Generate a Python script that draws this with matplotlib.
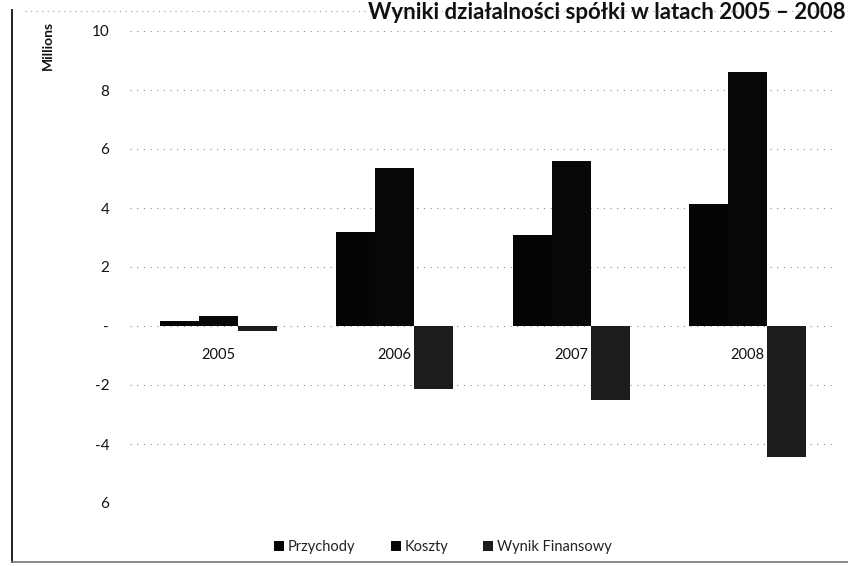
import matplotlib
matplotlib.use("Agg")
import matplotlib.pyplot as plt
from matplotlib.lines import Line2D
import numpy as np

plt.rcParams['font.family'] = ['Lato', 'DejaVu Sans']

years = ["2005", "2006", "2007", "2008"]
przychody = [0.18, 3.2, 3.1, 4.15]
koszty = [0.35, 5.35, 5.6, 8.6]
wynik = [-0.17, -2.15, -2.5, -4.45]
series_names = ["Przychody", "Koszty", "Wynik Finansowy"]
ytick_vals = [10, 8, 6, 4, 2, 0, -2, -4, -6]
ytick_labels = ["10", "8", "6", "4", "2", "-", "-2", "-4", "6"]
title = "Wyniki działalności spółki w latach 2005 – 2008"

W, H = 848, 566
fig = plt.figure(figsize=(W / 100, H / 100), dpi=100)
ax = fig.add_axes([130 / W, 1 - 503 / H, 706 / W, 472 / H])

x = np.arange(len(years))
bw = 0.221
colors = ["#050505", "#080808", "#1c1c1c"]
for i, (vals, c, name) in enumerate(zip([przychody, koszty, wynik], colors, series_names)):
    ax.bar(x + (i - 1) * bw, vals, width=bw, color=c, label=name, zorder=3)

ax.set_xlim(-0.5, len(years) - 0.5)
ax.set_ylim(-6, 10)
ax.set_yticks(ytick_vals, ytick_labels)
ax.set_xticks(x, years)
for s in ["top", "right", "left"]:
    ax.spines[s].set_visible(False)
ax.spines["bottom"].set_position(("data", 0))
ax.spines["bottom"].set_visible(False)
ax.tick_params(axis="y", length=0, pad=15, labelsize=11, labelcolor="#111111")
ax.tick_params(axis="x", length=0, pad=16, labelsize=10.5, labelcolor="#111111")
for lab in ax.get_xticklabels():
    lab.set_zorder(5)

ax.yaxis.grid(True, color="#8a8a8a", linestyle=(0, (1, 5)), linewidth=0.8, zorder=0)
ax.set_axisbelow(True)

fig.text(48 / W, 1 - 45 / H, "Millions", rotation=90, fontsize=10, fontweight="bold",
         ha="center", va="center", color="#111111")

fig.text(846 / W, 1 - 19 / H, title, fontsize=16, fontweight="bold",
         ha="right", va="baseline", color="#111111")

leg = fig.legend(loc="center", bbox_to_anchor=(443 / W, 1 - 547 / H), ncol=3,
                 frameon=False, fontsize=10.5, handlelength=0.7, handleheight=0.7,
                 handletextpad=0.25, columnspacing=2.4)
for t in leg.get_texts():
    t.set_color("#222222")

# chart frame (scanned)
fig.add_artist(Line2D([12 / W, 12 / W], [1 - 562 / H, 1 - 10 / H], transform=fig.transFigure,
                      color="#222222", linewidth=1.4))
fig.add_artist(Line2D([12 / W, 1.0], [1 - 562 / H, 1 - 562 / H], transform=fig.transFigure,
                      color="#777777", linewidth=1.2))
fig.add_artist(Line2D([25 / W, 1.0], [1 - 11 / H, 1 - 11 / H], transform=fig.transFigure,
                      color="#9a9a9a", linewidth=0.8, linestyle=(0, (1, 4))))

fig.savefig("out.png", dpi=100)
